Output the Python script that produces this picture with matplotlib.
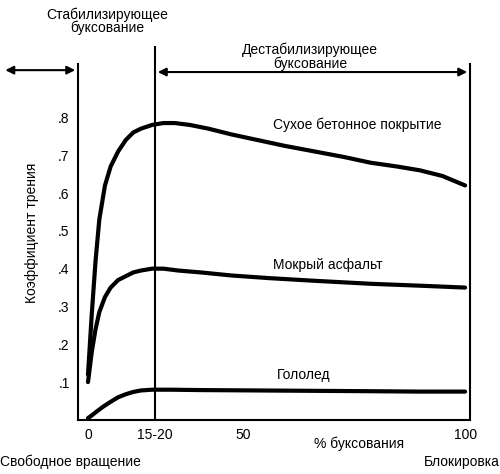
import numpy as np
import matplotlib.pyplot as plt

plt.rcParams['font.family'] = ['Liberation Sans', 'DejaVu Sans']

# % slip (drawn on a linear scale where "15-20" sits near 17.8 and "50" near 41)
x_dry = [0, 1, 2, 3, 4.5, 6, 8, 10, 12, 14, 17, 20, 23, 27, 32, 38, 45, 52,
         60, 68, 75, 82, 88, 94, 100]
y_dry = [0.12, 0.28, 0.42, 0.53, 0.62, 0.67, 0.71, 0.74, 0.76, 0.77, 0.78,
         0.785, 0.785, 0.78, 0.77, 0.755, 0.74, 0.725, 0.71, 0.695, 0.68,
         0.67, 0.66, 0.645, 0.62]
x_wet = [0, 1, 2, 3, 4.5, 6, 8, 10, 12, 14, 17, 20, 24, 30, 38, 48, 60, 75,
         88, 100]
y_wet = [0.10, 0.18, 0.24, 0.285, 0.325, 0.35, 0.37, 0.38, 0.39, 0.395, 0.40,
         0.40, 0.395, 0.39, 0.382, 0.375, 0.368, 0.36, 0.355, 0.35]
x_ice = [0, 1, 2, 4, 6, 8, 10, 12, 14, 17, 22, 30, 45, 60, 75, 88, 100]
y_ice = [0.005, 0.012, 0.02, 0.035, 0.048, 0.06, 0.068, 0.074, 0.078, 0.08,
         0.08, 0.079, 0.078, 0.077, 0.076, 0.075, 0.075]

xtick_pos = [0, 17.8, 41.1, 100]
xtick_lab = ['0', '15-20', '50', '100']
ytick_pos = [0.1, 0.2, 0.3, 0.4, 0.5, 0.6, 0.7, 0.8]
ytick_lab = ['.1', '.2', '.3', '.4', '.5', '.6', '.7', '.8']

fig = plt.figure(figsize=(5, 4.74), dpi=100)
ax = fig.add_axes([0.156, 0.114, 0.784, 0.79])
ax.set_xlim(-2.65, 101.3)
ax.set_ylim(0, 0.99)

for xs, ys in [(x_dry, y_dry), (x_wet, y_wet), (x_ice, y_ice)]:
    ax.plot(xs, ys, color='black', lw=3, solid_capstyle='round',
            solid_joinstyle='round')

for s in ['top', 'right']:
    ax.spines[s].set_visible(False)
ax.spines['left'].set_bounds(0, 0.94)
ax.spines['left'].set_linewidth(1.5)
ax.spines['bottom'].set_linewidth(1.5)
ax.plot([17.8, 17.8], [0, 0.99], color='black', lw=1.5)
ax.plot([101.3, 101.3], [0, 0.94], color='black', lw=1.5, clip_on=False)

ax.set_xticks(xtick_pos)
ax.set_xticklabels(xtick_lab, fontsize=10)
ax.set_yticks(ytick_pos)
ax.set_yticklabels(ytick_lab, fontsize=10)
ax.tick_params(length=0, pad=6)
ax.set_ylabel('Коэффициент трения', fontsize=10, labelpad=14)

ax.text(72, -0.045, '% буксования', ha='center', va='top', fontsize=10)
fig.text(0.0, 0.025, 'Свободное вращение', ha='left', va='center', fontsize=10)
fig.text(1.0, 0.025, 'Блокировка', ha='right', va='center', fontsize=10)

ax.text(49, 0.78, 'Сухое бетонное покрытие', fontsize=10, va='center')
ax.text(49, 0.41, 'Мокрый асфальт', fontsize=10, va='center')
ax.text(50, 0.12, 'Гололед', fontsize=10, va='center')

fig.text(0.214, 0.955, 'Стабилизирующее\nбуксование', ha='center', va='center',
         fontsize=10, linespacing=0.95)
fig.text(0.62, 0.88, 'Дестабилизирующее\nбуксование', ha='center', va='center',
         fontsize=10, linespacing=0.95)

arr = dict(arrowstyle='<|-|>', color='black', lw=1.5, mutation_scale=12)
fig.add_artist(plt.matplotlib.patches.FancyArrowPatch(
    (0.005, 0.852), (0.156, 0.852), transform=fig.transFigure, **arr))
fig.add_artist(plt.matplotlib.patches.FancyArrowPatch(
    (0.31, 0.848), (0.94, 0.848), transform=fig.transFigure, **arr))

fig.savefig('out.png', dpi=100)
